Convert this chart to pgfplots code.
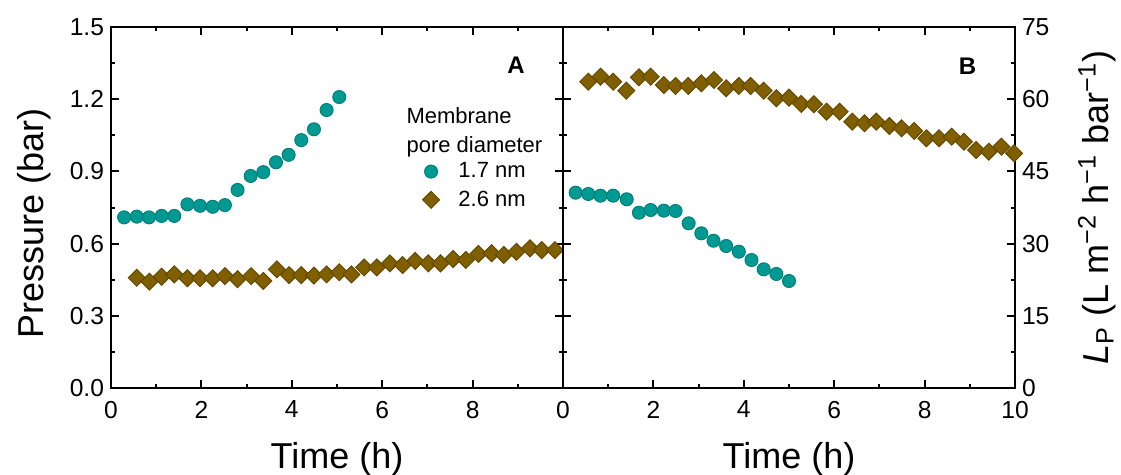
\documentclass[border=0pt]{standalone}
\usepackage{fontspec}
\setmainfont{Liberation Sans}
\usepackage{pgfplots}
\pgfplotsset{compat=1.18}
\definecolor{tealF}{RGB}{0,154,147}
\definecolor{tealE}{RGB}{0,128,122}
\definecolor{brownF}{RGB}{127,95,0}
\definecolor{brownE}{RGB}{100,74,0}
\newcommand{\fs}[1]{\fontsize{#1}{1.2\dimexpr#1\relax}\selectfont}
\pgfplotsset{
  myax/.style={
    scale only axis, width=226bp, height=180.5bp,
    xmin=0, xmax=10,
    axis line style={line width=1.2bp},
    every tick/.style={black, line width=1bp},
    major tick length=4bp, minor tick length=2bp,
    tick align=inside,
    minor x tick num=1, minor y tick num=1,
    xtick={0,2,4,6,8,10},
    /pgf/number format/assume math mode=true,
    tick label style={font=\fs{12.3bp}},
    xticklabel style={yshift=-3bp},
    label style={font=\fs{18bp}},
    x label style={at={(axis description cs:0.5,0)}, anchor=base, yshift=-40bp},
  },
  circ/.style={only marks, mark=*, mark size=3.25bp, mark options={fill=tealF, draw=tealE, line width=0.5bp}},
  diam/.style={only marks, mark=square*, mark size=3bp, mark options={rotate=45, fill=brownF, draw=brownE, line width=0.5bp}},
}
\begin{document}
\begin{tikzpicture}
\begin{axis}[myax, at={(0bp,0bp)},
  ymin=0, ymax=1.5, ytick={0,0.3,0.6,0.9,1.2,1.5},
  yticklabel style={/pgf/number format/.cd, fixed, fixed zerofill, precision=1},
  xticklabels={0,2,4,6,8,{}},
  xlabel={Time (h)}, ylabel={Pressure (bar)},
  y label style={at={(axis description cs:-0.150,0.457)}, anchor=base},
  legend style={at={(axis cs:6.71,0.951)}, anchor=north west, draw=none, fill=none,
    font=\fs{11bp}, inner sep=0pt, row sep=2bp, nodes={inner sep=1.5bp}},
  legend image code/.code={\path (0bp,0bp) (20bp,0bp); \draw[mark repeat=2,mark phase=2] plot coordinates {(0bp,0bp)(8bp,0bp)(20bp,0bp)};},
  legend cell align=left,
]
\addplot[circ] coordinates {
(0.29,0.709)(0.57,0.712)(0.84,0.709)(1.12,0.715)(1.40,0.715)(1.69,0.763)(1.97,0.757)(2.25,0.753)(2.52,0.760)(2.80,0.823)(3.09,0.881)(3.37,0.897)(3.65,0.938)(3.93,0.969)(4.21,1.030)(4.49,1.075)(4.77,1.155)(5.05,1.209)
};
\addlegendentry{1.7 nm}
\addplot[diam] coordinates {
(0.57,0.458)(0.85,0.442)(1.12,0.462)(1.40,0.472)(1.69,0.456)(1.97,0.456)(2.25,0.456)(2.52,0.465)(2.80,0.452)(3.10,0.465)(3.37,0.445)(3.67,0.493)(3.94,0.469)(4.21,0.469)(4.49,0.467)(4.77,0.472)(5.05,0.481)(5.32,0.472)(5.60,0.501)(5.88,0.501)(6.17,0.518)(6.45,0.511)(6.73,0.528)(7.02,0.518)(7.29,0.518)(7.57,0.536)(7.85,0.532)(8.13,0.557)(8.42,0.560)(8.69,0.553)(8.97,0.566)(9.27,0.580)(9.53,0.573)(9.82,0.573)
};
\addlegendentry{2.6 nm}
\node[anchor=base west, font=\fs{11bp}, inner sep=0pt] at (axis cs:6.53,1.097) {Membrane};
\node[anchor=base west, font=\fs{11bp}, inner sep=0pt] at (axis cs:6.53,0.980) {pore diameter};
\node[anchor=base, font=\bfseries\fs{12bp}, inner sep=0pt] at (axis cs:8.96,1.305) {A};
\end{axis}
\begin{axis}[myax, at={(226bp,0bp)},
  ymin=0, ymax=75, ytick={0,15,30,45,60,75},
  yticklabel pos=right,
  xticklabels={0,2,4,6,8,10},
  xlabel={Time (h)},
  ylabel={\textit{L}\textsubscript{P} (L m\textsuperscript{−2} h\textsuperscript{−1} bar\textsuperscript{−1})},
  y label style={at={(axis description cs:1.206,0.5)}, anchor=base},
]
\addplot[circ] coordinates {
(0.28,40.58)(0.56,40.31)(0.83,39.96)(1.11,39.96)(1.41,39.21)(1.68,36.42)(1.94,36.98)(2.23,36.84)(2.49,36.78)(2.78,34.22)(3.06,32.14)(3.33,30.60)(3.61,29.50)(3.89,28.32)(4.17,26.59)(4.44,24.66)(4.72,23.69)(5.00,22.23)
};
\addplot[diam] coordinates {
(0.56,63.64)(0.83,64.68)(1.11,63.64)(1.40,61.77)(1.68,64.55)(1.94,64.68)(2.23,62.95)(2.49,62.75)(2.77,62.75)(3.06,63.31)(3.34,63.99)(3.61,62.27)(3.89,62.75)(4.15,62.75)(4.44,61.77)(4.72,60.19)(5.00,60.32)(5.27,59.01)(5.55,58.95)(5.83,57.41)(6.12,57.41)(6.40,55.33)(6.67,55.00)(6.93,55.33)(7.22,54.44)(7.49,53.96)(7.77,53.40)(8.04,51.88)(8.32,51.88)(8.60,52.21)(8.87,51.17)(9.14,49.45)(9.42,49.10)(9.70,50.13)(9.98,48.76)
};
\node[anchor=base, font=\bfseries\fs{12bp}, inner sep=0pt] at (axis cs:8.95,65.2) {B};
\end{axis}
\pgfresetboundingbox
\path[use as bounding box] (-55.5bp,-43.5bp) rectangle (505bp,194bp);
\end{tikzpicture}
\end{document}
